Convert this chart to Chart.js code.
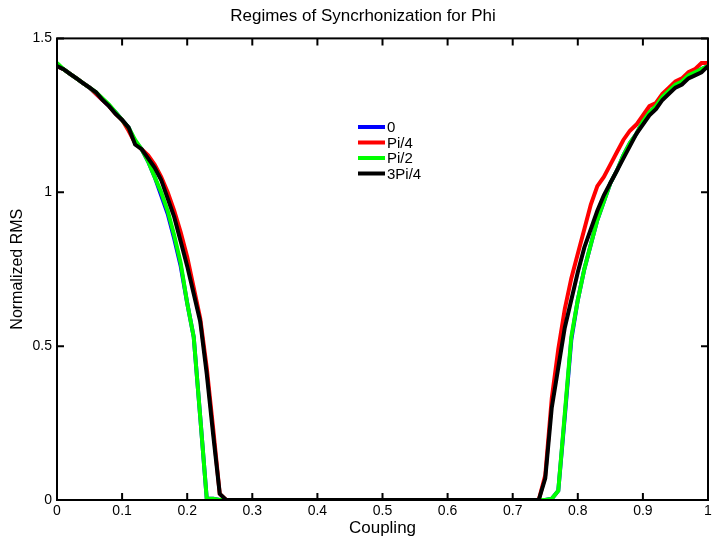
<!DOCTYPE html>
<html>
<head>
<meta charset="utf-8">
<script src="https://cdn.jsdelivr.net/npm/chart.js@4.4.0/dist/chart.umd.min.js"></script>
<style>
  body { margin: 0; background: #fff; }
</style>
</head>
<body>
<canvas id="rmsChart" width="712" height="541"></canvas>
<script>
// coupling strength (x axis)
const coupling = [
  0.00, 0.01, 0.02, 0.03, 0.04, 0.05, 0.06, 0.07, 0.08, 0.09,
  0.10, 0.11, 0.12, 0.13, 0.14, 0.15, 0.16, 0.17, 0.18, 0.19,
  0.20, 0.21, 0.22, 0.23, 0.24, 0.25, 0.26, 0.27, 0.28, 0.29,
  0.30, 0.31, 0.32, 0.33, 0.34, 0.35, 0.36, 0.37, 0.38, 0.39,
  0.40, 0.41, 0.42, 0.43, 0.44, 0.45, 0.46, 0.47, 0.48, 0.49,
  0.50, 0.51, 0.52, 0.53, 0.54, 0.55, 0.56, 0.57, 0.58, 0.59,
  0.60, 0.61, 0.62, 0.63, 0.64, 0.65, 0.66, 0.67, 0.68, 0.69,
  0.70, 0.71, 0.72, 0.73, 0.74, 0.75, 0.76, 0.77, 0.78, 0.79,
  0.80, 0.81, 0.82, 0.83, 0.84, 0.85, 0.86, 0.87, 0.88, 0.89,
  0.90, 0.91, 0.92, 0.93, 0.94, 0.95, 0.96, 0.97, 0.98, 0.99,
  1.00
];

// normalized RMS for each phase offset
const rmsPhi0 = [
  1.41, 1.40, 1.385, 1.37, 1.355, 1.34, 1.32, 1.30, 1.28, 1.26,
  1.235, 1.21, 1.165, 1.14, 1.10, 1.05, 0.99, 0.93, 0.85, 0.76,
  0.64, 0.53, 0.27, 0.005, 0.004, 0, 0, 0, 0, 0,
  0, 0, 0, 0, 0, 0, 0, 0, 0, 0,
  0, 0, 0, 0, 0, 0, 0, 0, 0, 0,
  0, 0, 0, 0, 0, 0, 0, 0, 0, 0,
  0, 0, 0, 0, 0, 0, 0, 0, 0, 0,
  0, 0, 0, 0, 0, 0, 0.004, 0.03, 0.27, 0.52,
  0.65, 0.75, 0.83, 0.91, 0.97, 1.03, 1.07, 1.12, 1.16, 1.19,
  1.23, 1.26, 1.28, 1.31, 1.33, 1.35, 1.36, 1.38, 1.39, 1.40,
  1.41
];
const rmsPi4 = [
  1.41, 1.40, 1.385, 1.37, 1.355, 1.34, 1.32, 1.30, 1.28, 1.255,
  1.235, 1.20, 1.16, 1.14, 1.12, 1.09, 1.05, 1.00, 0.94, 0.87,
  0.79, 0.69, 0.59, 0.43, 0.23, 0.02, 0, 0, 0, 0,
  0, 0, 0, 0, 0, 0, 0, 0, 0, 0,
  0, 0, 0, 0, 0, 0, 0, 0, 0, 0,
  0, 0, 0, 0, 0, 0, 0, 0, 0, 0,
  0, 0, 0, 0, 0, 0, 0, 0, 0, 0,
  0, 0, 0, 0, 0, 0.08, 0.33, 0.49, 0.62, 0.72,
  0.80, 0.88, 0.96, 1.02, 1.05, 1.09, 1.13, 1.17, 1.20, 1.22,
  1.25, 1.28, 1.29, 1.32, 1.34, 1.36, 1.37, 1.39, 1.40, 1.42,
  1.42
];
const rmsPi2 = [
  1.42, 1.40, 1.385, 1.37, 1.355, 1.34, 1.325, 1.305, 1.285, 1.26,
  1.235, 1.21, 1.17, 1.14, 1.10, 1.05, 1.00, 0.94, 0.86, 0.77,
  0.64, 0.53, 0.27, 0.005, 0.004, 0, 0, 0, 0, 0,
  0, 0, 0, 0, 0, 0, 0, 0, 0, 0,
  0, 0, 0, 0, 0, 0, 0, 0, 0, 0,
  0, 0, 0, 0, 0, 0, 0, 0, 0, 0,
  0, 0, 0, 0, 0, 0, 0, 0, 0, 0,
  0, 0, 0, 0, 0, 0, 0.004, 0.03, 0.28, 0.53,
  0.65, 0.75, 0.83, 0.91, 0.97, 1.03, 1.07, 1.12, 1.16, 1.19,
  1.23, 1.26, 1.28, 1.31, 1.33, 1.35, 1.36, 1.38, 1.39, 1.40,
  1.41
];
const rms3Pi4 = [
  1.41, 1.40, 1.385, 1.37, 1.355, 1.34, 1.325, 1.30, 1.28, 1.255,
  1.235, 1.21, 1.155, 1.14, 1.11, 1.08, 1.04, 0.98, 0.92, 0.84,
  0.76, 0.67, 0.58, 0.41, 0.21, 0.02, 0, 0, 0, 0,
  0, 0, 0, 0, 0, 0, 0, 0, 0, 0,
  0, 0, 0, 0, 0, 0, 0, 0, 0, 0,
  0, 0, 0, 0, 0, 0, 0, 0, 0, 0,
  0, 0, 0, 0, 0, 0, 0, 0, 0, 0,
  0, 0, 0, 0, 0, 0.07, 0.30, 0.43, 0.56, 0.65,
  0.74, 0.82, 0.88, 0.94, 0.99, 1.03, 1.07, 1.11, 1.15, 1.19,
  1.22, 1.25, 1.27, 1.30, 1.32, 1.34, 1.35, 1.37, 1.38, 1.39,
  1.41
];

const seriesLabels = ['0', 'Pi/4', 'Pi/2', '3Pi/4'];
const seriesColors = ['#0000ff', '#ff0000', '#00ff00', '#000000'];
const seriesValues = [rmsPhi0, rmsPi4, rmsPi2, rms3Pi4];

const FONT = '"Liberation Sans", Arial, Helvetica, sans-serif';

// matlab style box: frame, inward ticks on all sides, legend inside
const boxPlugin = {
    id: 'boxPlugin',
    afterDatasetsDraw(chart) {
        const ctx = chart.ctx
        const a = chart.chartArea
        const x = chart.scales.x
        const y = chart.scales.y
        const tl = 7
        ctx.save()
        ctx.strokeStyle = '#000'
        ctx.lineWidth = 2
        ctx.strokeRect(a.left, a.top, a.right - a.left, a.bottom - a.top)
        ctx.beginPath()
        x.ticks.forEach(t => {
            const px = x.getPixelForValue(t.value)
            ctx.moveTo(px, a.bottom); ctx.lineTo(px, a.bottom - tl)
            ctx.moveTo(px, a.top); ctx.lineTo(px, a.top + tl)
        })
        y.ticks.forEach(t => {
            const py = y.getPixelForValue(t.value)
            ctx.moveTo(a.left, py); ctx.lineTo(a.left + tl, py)
            ctx.moveTo(a.right, py); ctx.lineTo(a.right - tl, py)
        })
        ctx.stroke()

        // legend
        ctx.font = '15px ' + FONT
        ctx.textBaseline = 'middle'
        ctx.textAlign = 'left'
        chart.data.datasets.forEach((ds, i) => {
            const ly = 127 + i * 15.5
            ctx.strokeStyle = ds.borderColor
            ctx.lineWidth = 4
            ctx.beginPath()
            ctx.moveTo(358, ly)
            ctx.lineTo(385, ly)
            ctx.stroke()
            ctx.fillStyle = '#000'
            ctx.fillText(ds.label, 387, ly + 1)
        })
        ctx.restore()
    }
}

const datasets = seriesLabels.map((lbl, i) => ({
    label: lbl,
    data: coupling.map((c, j) => ({ x: c, y: seriesValues[i][j] })),
    borderColor: seriesColors[i],
    backgroundColor: seriesColors[i],
    borderWidth: 4,
    pointRadius: 0,
    tension: 0,
    fill: false,
    order: 4 - i
}))

const config = {
    type: 'line',
    data: { datasets: datasets },
    options: {
        responsive: false,
        animation: false,
        devicePixelRatio: 1,
        layout: { padding: { left: 18, right: 4 } },
        plugins: {
            legend: { display: false },
            tooltip: { enabled: false },
            title: {
                display: true,
                text: 'Regimes of Syncrhonization for Phi',
                color: '#000',
                font: { family: FONT, size: 17, weight: 'normal' },
                padding: { top: 6, bottom: 12 }
            }
        },
        scales: {
            x: {
                type: 'linear',
                min: 0,
                max: 1,
                ticks: {
                    stepSize: 0.1,
                    color: '#000',
                    padding: 3,
                    maxRotation: 0,
                    font: { family: FONT, size: 14 },
                    callback: v => String(+v.toFixed(1))
                },
                grid: { display: false, drawTicks: false },
                border: { display: false },
                title: {
                    display: true,
                    text: 'Coupling',
                    color: '#000',
                    font: { family: FONT, size: 17 },
                    padding: { top: 0, bottom: 2 }
                },
                afterFit(s) {
                    s.height = 41
                    s.paddingLeft = 0
                    s.paddingRight = 0
                }
            },
            y: {
                min: 0,
                max: 1.5,
                ticks: {
                    stepSize: 0.5,
                    color: '#000',
                    padding: 5,
                    font: { family: FONT, size: 14 },
                    callback: v => String(+v.toFixed(1))
                },
                grid: { display: false, drawTicks: false },
                border: { display: false },
                title: {
                    display: true,
                    text: 'Normalized RMS',
                    color: '#000',
                    font: { family: FONT, size: 16 },
                    padding: { top: -10, bottom: 0 }
                },
                afterFit(s) { s.width = 39 }
            }
        }
    },
    plugins: [boxPlugin]
}

const rmsChart = new Chart(document.getElementById('rmsChart').getContext('2d'), config)
</script>
</body>
</html>
